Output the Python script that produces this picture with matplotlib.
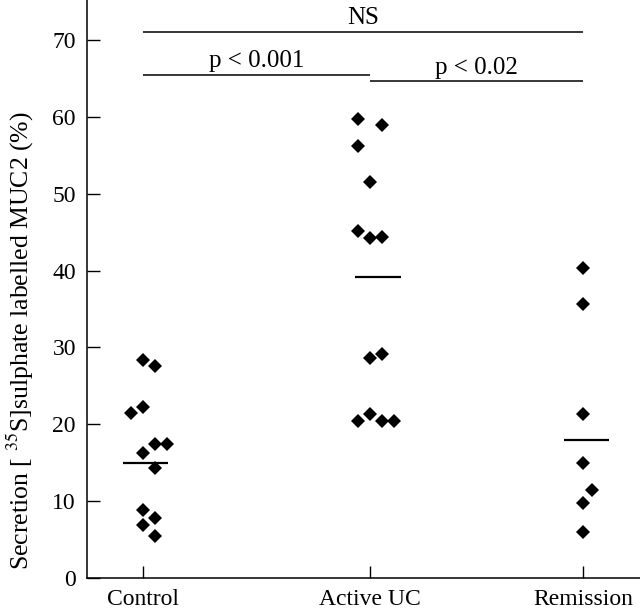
import matplotlib
matplotlib.use("Agg")
import matplotlib.pyplot as plt

plt.rcParams['font.family'] = ['Liberation Serif', 'DejaVu Serif']
plt.rcParams['mathtext.fontset'] = 'stix'

# data (%)
groups     = ['Control', 'Active UC', 'Remission']
control    = [28.3, 27.6, 21.5, 22.3, 17.4, 17.4, 16.2, 14.3, 8.8, 7.8, 6.9, 5.5]
active_uc  = [59.7, 59.0, 56.2, 51.5, 45.2, 44.3, 44.4, 29.2, 28.6, 21.4, 20.4, 20.4, 20.4]
remission  = [40.3, 35.6, 21.4, 14.9, 11.5, 9.7, 6.0]
means      = [14.9, 39.2, 17.9]

# horizontal jitter of the points, in steps
control_jit   = [0, 1, -1, 0, 1, 2, 0, 1, 0, 1, 0, 1]
active_jit    = [-1, 1, -1, 0, -1, 0, 1, 1, 0, 0, -1, 1, 2]
remission_jit = [0, 0, 0, 0, 0.75, 0, 0]

comparisons = [('NS', 0, 2, 71.1), ('p < 0.001', 0, 1, 65.5), ('p < 0.02', 1, 2, 64.6)]

xpos = [0, 1, 1.94]
step = 0.052

fig = plt.figure(figsize=(6.4, 6.1), dpi=100)
ax = fig.add_axes([87/640, 32/610, 553/640, 578/610])

for x0, vals, jit in zip(xpos, [control, active_uc, remission],
                         [control_jit, active_jit, remission_jit]):
    xs = [x0 + j*step for j in jit]
    ax.plot(xs, vals, 'D', color='black', markersize=7.2, markeredgewidth=0, linestyle='none')

mean_shift = [0.012, 0.035, 0.013]
for x0, m, s in zip(xpos, means, mean_shift):
    ax.hlines(m, x0 + s - 0.1, x0 + s + 0.1, color='black', linewidth=1.6)

for label, i, j, y in comparisons:
    ax.hlines(y, xpos[i], xpos[j], color='black', linewidth=1.1)
    ax.text((xpos[i] + xpos[j]) / 2, y + 1.0, label, ha='center', va='baseline', fontsize=18)

ax.set_xlim(-0.247, 2.19)
ax.set_ylim(0, 75.2)
ax.set_xticks(xpos)
ax.set_xticklabels(groups)
ax.set_yticks(range(0, 71, 10))
ax.tick_params(axis='both', direction='in', length=9, width=1.0, labelsize=17)
ax.tick_params(axis='y', pad=8)
ax.tick_params(axis='x', pad=8)
for side in ['top', 'right']:
    ax.spines[side].set_visible(False)
for side in ['left', 'bottom']:
    ax.spines[side].set_linewidth(1.1)

ax.set_ylabel('Secretion [ $^{35}$S]sulphate labelled MUC2 (%)', fontsize=18.5, va='center')
ax.yaxis.set_label_coords(-0.121, 0.41)

fig.savefig('out.png', dpi=100)
